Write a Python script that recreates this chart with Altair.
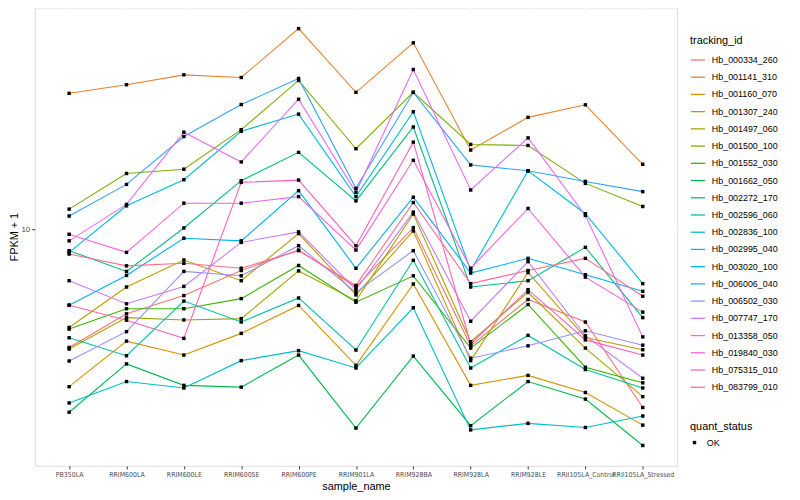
import altair as alt
import pandas as pd

samples = ["PB350LA", "RRIM600LA", "RRIM600LE", "RRIM600SE", "RRIM600PE", "RRIM901LA",
           "RRIM928BA", "RRIM928LA", "RRIM928LE", "RRII105LA_Control", "RRII105LA_Stressed"]

tracking_ids = ["Hb_000334_260", "Hb_001141_310", "Hb_001160_070", "Hb_001307_240", "Hb_001497_060",
                "Hb_001500_100", "Hb_001552_030", "Hb_001662_050", "Hb_002272_170", "Hb_002596_060",
                "Hb_002836_100", "Hb_002995_040", "Hb_003020_100", "Hb_006006_040", "Hb_006502_030",
                "Hb_007747_170", "Hb_013358_050", "Hb_019840_030", "Hb_075315_010", "Hb_083799_010"]

palette = ["#F8766D", "#EA8331", "#D89000", "#C09B00", "#A3A500", "#7CAE00", "#39B600", "#00BB4E",
           "#00BF7D", "#00C1A3", "#00BFC4", "#00BAE0", "#00B0F6", "#35A2FF", "#9590FF", "#C77CFF",
           "#E76BF3", "#FA62DB", "#FF62BC", "#FF6C91"]

# FPKM + 1 per sample (same order as samples)
hb_000334_260 = [4.00, 5.19, 5.98, 7.26, 8.51, 6.39, 10.13, 4.05, 5.80, 4.87, 2.51]
hb_001141_310 = [28.69, 30.67, 33.11, 32.44, 47.38, 28.91, 42.44, 18.48, 23.81, 26.24, 16.55]
hb_001160_070 = [2.95, 4.20, 3.77, 4.46, 5.54, 3.48, 6.54, 2.98, 3.22, 2.82, 2.19]
hb_001307_240 = [4.67, 6.39, 7.88, 6.71, 9.67, 6.01, 9.87, 3.61, 7.15, 4.32, 3.93]
hb_001497_060 = [3.95, 5.04, 4.95, 5.00, 7.24, 5.75, 11.25, 4.18, 6.13, 3.98, 2.73]
hb_001500_100 = [11.69, 15.41, 15.93, 21.65, 31.70, 18.67, 28.91, 19.30, 19.15, 14.27, 11.93]
hb_001552_030 = [4.61, 5.40, 5.40, 5.84, 7.55, 5.68, 6.97, 3.98, 5.58, 3.43, 3.04]
hb_001662_050 = [2.42, 3.52, 2.98, 2.94, 3.77, 2.14, 3.74, 2.18, 3.07, 2.68, 1.87]
hb_002272_170 = [8.47, 7.21, 10.10, 14.57, 18.15, 12.46, 22.10, 6.39, 6.71, 8.69, 5.04]
hb_002596_060 = [4.31, 3.75, 5.73, 4.87, 5.87, 3.92, 7.86, 3.41, 4.39, 3.37, 2.92]
hb_002836_100 = [2.60, 3.07, 2.92, 3.61, 3.90, 3.41, 5.44, 2.11, 2.22, 2.15, 2.35]
hb_002995_040 = [8.36, 11.99, 14.68, 21.38, 24.42, 12.88, 24.86, 7.26, 15.73, 11.28, 6.56]
hb_003020_100 = [5.55, 6.99, 9.33, 9.14, 13.49, 7.39, 12.82, 7.12, 7.98, 7.03, 6.18]
hb_006006_040 = [11.08, 14.16, 20.52, 26.30, 32.19, 13.73, 28.91, 16.47, 15.73, 14.49, 13.39]
hb_006502_030 = [3.60, 4.52, 7.21, 6.97, 8.80, 6.13, 8.47, 3.68, 4.05, 4.55, 4.07]
hb_007747_170 = [6.71, 5.61, 6.42, 9.03, 9.80, 6.26, 11.42, 4.90, 7.78, 4.38, 3.15]
hb_013358_050 = [9.14, 12.12, 21.22, 16.85, 27.40, 13.32, 34.50, 13.56, 20.31, 11.13, 4.34]
hb_019840_030 = [9.62, 8.36, 12.24, 12.24, 12.88, 8.51, 17.07, 7.39, 11.75, 6.90, 5.26]
hb_075315_010 = [5.55, 4.94, 4.29, 14.38, 14.64, 8.80, 19.65, 4.11, 6.26, 4.24, 3.77]
hb_083799_010 = [8.25, 7.53, 7.68, 7.39, 8.47, 6.47, 12.30, 6.56, 7.26, 7.98, 5.95]

series = [hb_000334_260, hb_001141_310, hb_001160_070, hb_001307_240, hb_001497_060,
          hb_001500_100, hb_001552_030, hb_001662_050, hb_002272_170, hb_002596_060,
          hb_002836_100, hb_002995_040, hb_003020_100, hb_006006_040, hb_006502_030,
          hb_007747_170, hb_013358_050, hb_019840_030, hb_075315_010, hb_083799_010]

rows = []
for tid, vals in zip(tracking_ids, series):
    for s, v in zip(samples, vals):
        rows.append({"tracking_id": tid, "sample_name": s, "fpkm1": v, "quant_status": "OK"})
df = pd.DataFrame(rows)

FONT = "Liberation Sans"
NARROW = "'DejaVu Sans Condensed', 'Liberation Sans'"

x_enc = alt.X("sample_name:N", sort=samples,
              scale=alt.Scale(type="point", padding=0.6),
              axis=alt.Axis(title="sample_name", labelAngle=0, labelFontSize=7,
                            labelColor="#4D4D4D", labelOverlap=False, tickSize=3,
                            tickColor="#333333", labelPadding=2, titlePadding=3,
                            titleFontSize=11, titleFontWeight="normal", domain=False,
                            grid=True, gridColor="white", gridWidth=1.1,
                            labelFont=NARROW))
y_enc = alt.Y("fpkm1:Q",
              scale=alt.Scale(type="log", domain=[1.597, 55.81], nice=False, zero=False),
              axis=alt.Axis(title="FPKM + 1", values=[10], format="d", labelFontSize=8,
                            labelColor="#4D4D4D", tickSize=3, tickColor="#333333",
                            labelPadding=2, titlePadding=2, titleFontSize=11,
                            titleFontWeight="normal", domain=False, grid=True,
                            gridColor="white", gridWidth=1.1))

lines = alt.Chart(df).mark_line(strokeWidth=1.1).encode(
    x=x_enc, y=y_enc,
    color=alt.Color("tracking_id:N",
                    scale=alt.Scale(domain=tracking_ids, range=palette),
                    legend=alt.Legend(title="tracking_id", orient="none", legendX=662,
                                      legendY=28, symbolType="stroke", symbolSize=200,
                                      symbolStrokeWidth=1.3, labelFontSize=9,
                                      titleFontSize=11, titleFontWeight="normal",
                                      rowPadding=4.4, labelOffset=6, titlePadding=6)),
    detail="tracking_id:N",
)

points = alt.Chart(df).mark_point(filled=True, size=12, opacity=1, color="black").encode(
    x=x_enc, y=y_enc,
    shape=alt.Shape("quant_status:N", scale=alt.Scale(domain=["OK"], range=["square"]),
                    legend=alt.Legend(title="quant_status", orient="none", legendX=662,
                                      legendY=418, symbolSize=12, symbolFillColor="black",
                                      symbolStrokeColor="black", labelFontSize=9,
                                      titleFontSize=11, titleFontWeight="normal",
                                      labelOffset=8, titlePadding=6)),
)

chart = alt.layer(lines, points).properties(
    width=649, height=463,
    autosize=alt.AutoSizeParams(type="none"),
    padding={"left": 27, "top": -3, "right": 116, "bottom": 30},
).configure_view(fill="#EBEBEB", stroke=None).configure(
    font=FONT
).configure_axis(labelFont=FONT, titleFont=FONT).configure_legend(
    labelFont=FONT, titleFont=FONT
)

chart.save("out.html", embed_options={"renderer": "svg", "actions": False})
